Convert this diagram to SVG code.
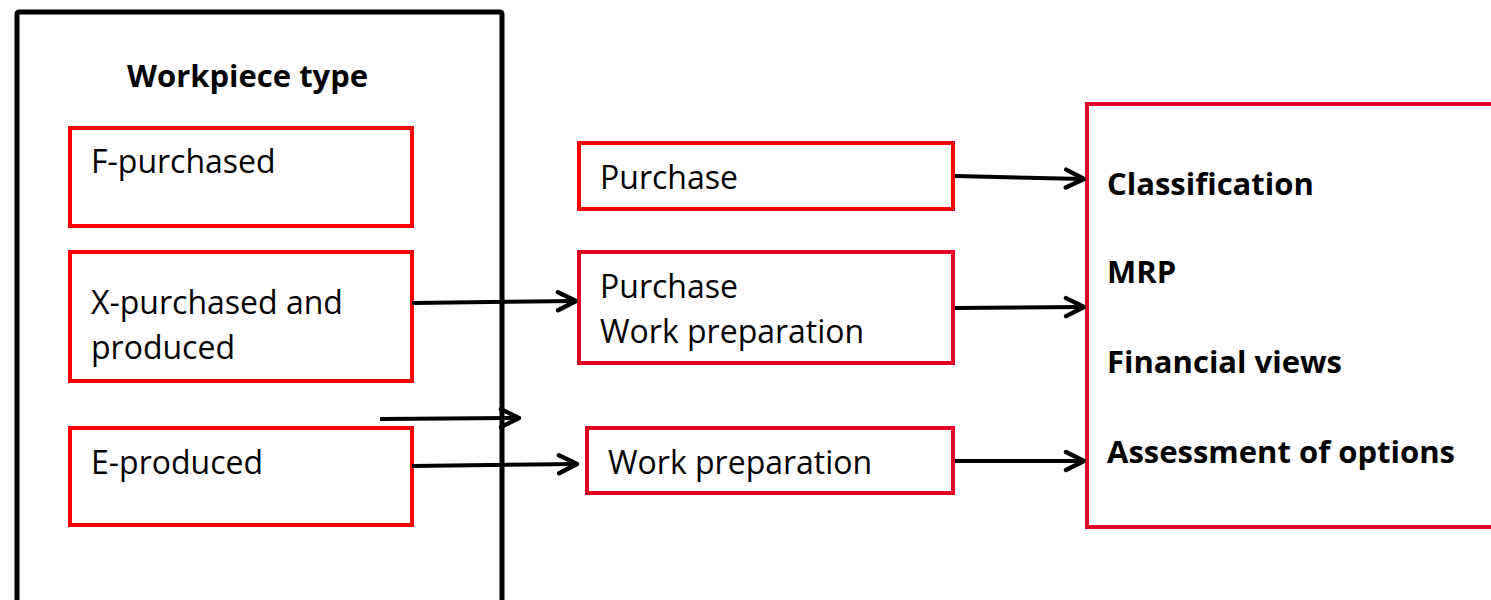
<svg xmlns="http://www.w3.org/2000/svg" width="1491" height="600" viewBox="0 0 1491 600">
<defs>
<style>
.t{font-family:"Open Sans","Liberation Sans",sans-serif;font-size:32px;fill:#000}
.b{font-weight:bold;font-size:31px}
.rb{fill:#fff;stroke:#ff0000;stroke-width:4}
.cb{fill:#fff;stroke:#e60026;stroke-width:4}
.cn{stroke:#000;stroke-width:4;fill:none;marker-end:url(#ah)}
</style>
<marker id="ah" viewBox="0 0 12 12" refX="11" refY="6" markerWidth="6" markerHeight="6" markerUnits="strokeWidth" orient="auto">
<polyline points="2,1.5 11,6 2,10.5" fill="none" stroke="#000" stroke-width="2.2" stroke-linecap="round" stroke-linejoin="round"/>
</marker>
</defs>
<rect width="1491" height="600" fill="#fff"/>
<g id="workpiece-type">
<rect x="17" y="12" width="485" height="600" fill="#fff" stroke="#000" stroke-width="5" rx="2"/>
<text class="t b" x="127" y="87">Workpiece type</text>
</g>
<g id="f-purchased">
<rect class="rb" x="70" y="128" width="342" height="98"/>
<text class="t" x="91" y="173">F-purchased</text>
</g>
<g id="x-purchased">
<rect class="rb" x="70" y="252" width="342" height="129"/>
<text class="t" x="91" y="314">X-purchased and</text>
<text class="t" x="91" y="359">produced</text>
</g>
<g id="e-produced">
<rect class="rb" x="70" y="428" width="342" height="97"/>
<text class="t" x="91" y="474">E-produced</text>
</g>
<g id="purchase">
<rect class="rb" x="579" y="143" width="374" height="66"/>
<text class="t" x="600" y="189">Purchase</text>
</g>
<g id="purchase-workprep">
<rect class="cb" x="579" y="252" width="374" height="111"/>
<text class="t" x="600" y="298">Purchase</text>
<text class="t" x="600" y="343">Work preparation</text>
</g>
<g id="workprep">
<rect class="cb" x="587" y="428" width="366" height="65"/>
<text class="t" x="608" y="474">Work preparation</text>
</g>
<g id="outputs">
<rect class="cb" x="1087" y="104" width="420" height="423"/>
<text class="t b" x="1107" y="195">Classification</text>
<text class="t b" x="1107" y="283">MRP</text>
<text class="t b" x="1107" y="373">Financial views</text>
<text class="t b" x="1107" y="463">Assessment of options</text>
</g>
<g id="connectors">
<line class="cn" x1="955" y1="176" x2="1084" y2="179"/>
<line class="cn" x1="955" y1="308" x2="1084" y2="307"/>
<line class="cn" x1="955" y1="461" x2="1084" y2="461"/>
<line class="cn" x1="412" y1="303" x2="576" y2="301"/>
<line class="cn" x1="412" y1="466" x2="577" y2="464"/>
<line class="cn" x1="380" y1="419" x2="519" y2="418"/>
</g>
</svg>
